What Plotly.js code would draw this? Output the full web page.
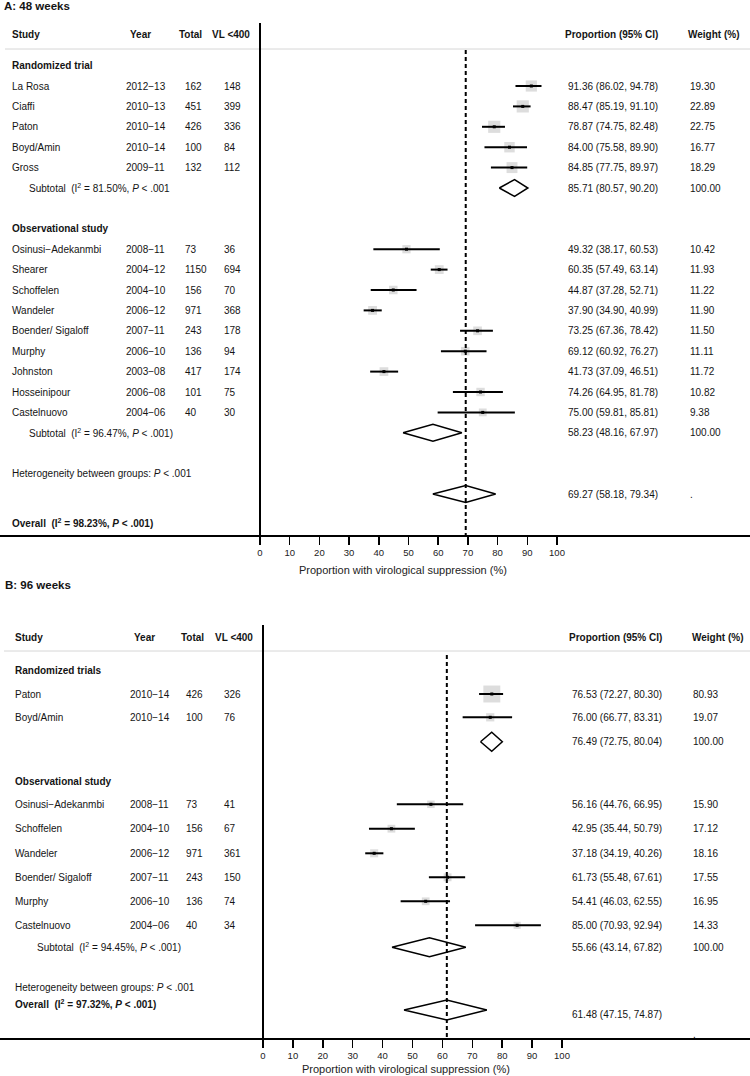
<!DOCTYPE html>
<html><head><meta charset="utf-8">
<script src="https://cdn.plot.ly/plotly-3.0.1.min.js"></script>
<style>html,body{margin:0;padding:0;background:#fff}#chart{width:750px;height:1076px}</style>
</head><body><div id="chart"></div>
<script>
// ================= DATA =================
// ---- Panel A: 48 weeks ----
const titleA = 'A: 48 weeks';
const rctLabelA = 'Randomized trial';
const rctNamesA = ['La Rosa', 'Ciaffi', 'Paton', 'Boyd/Amin', 'Gross'];
const rctYearsA = ['2012\u221213', '2010\u221213', '2010\u221214', '2010\u221214', '2009\u221211'];
const rctTotalA = [162, 451, 426, 100, 132];
const rctVlA    = [148, 399, 336, 84, 112];
const rctEstA   = [91.36, 88.47, 78.87, 84.00, 84.85];
const rctLoA    = [86.02, 85.19, 74.75, 75.58, 77.75];
const rctHiA    = [94.78, 91.10, 82.48, 89.90, 89.97];
const rctWA     = [19.30, 22.89, 22.75, 16.77, 18.29];
const rctPoolA  = [85.71, 80.57, 90.20];
const rctPoolWA = '100.00';
const rctPoolLabelA = 'Subtotal&nbsp; (I<sup>2</sup> = 81.50%, <i>P</i> &lt; .001';

const obsLabelA = 'Observational study';
const obsNamesA = ['Osinusi\u2212Adekanmbi', 'Shearer', 'Schoffelen', 'Wandeler', 'Boender/ Sigaloff', 'Murphy', 'Johnston', 'Hosseinipour', 'Castelnuovo'];
const obsYearsA = ['2008\u221211', '2004\u221212', '2004\u221210', '2006\u221212', '2007\u221211', '2006\u221210', '2003\u221208', '2006\u221208', '2004\u221206'];
const obsTotalA = [73, 1150, 156, 971, 243, 136, 417, 101, 40];
const obsVlA    = [36, 694, 70, 368, 178, 94, 174, 75, 30];
const obsEstA   = [49.32, 60.35, 44.87, 37.90, 73.25, 69.12, 41.73, 74.26, 75.00];
const obsLoA    = [38.17, 57.49, 37.28, 34.90, 67.36, 60.92, 37.09, 64.95, 59.81];
const obsHiA    = [60.53, 63.14, 52.71, 40.99, 78.42, 76.27, 46.51, 81.78, 85.81];
const obsWA     = [10.42, 11.93, 11.22, 11.90, 11.50, 11.11, 11.72, 10.82, 9.38];
const obsPoolA  = [58.23, 48.16, 67.97];
const obsPoolWA = '100.00';
const obsPoolLabelA = 'Subtotal&nbsp; (I<sup>2</sup> = 96.47%, <i>P</i> &lt; .001)';

const hetLabelA = 'Heterogeneity between groups: <i>P</i> &lt; .001';
const overallA  = [69.27, 58.18, 79.34];
const overallWA = '.';
const overallLabelA = '<b>Overall&nbsp; (I<sup>2</sup> = 98.23%, <i>P</i> &lt; .001)</b>';

// ---- Panel B: 96 weeks ----
const titleB = 'B: 96 weeks';
const rctLabelB = 'Randomized trials';
const rctNamesB = ['Paton', 'Boyd/Amin'];
const rctYearsB = ['2010\u221214', '2010\u221214'];
const rctTotalB = [426, 100];
const rctVlB    = [326, 76];
const rctEstB   = [76.53, 76.00];
const rctLoB    = [72.27, 66.77];
const rctHiB    = [80.30, 83.31];
const rctWB     = [80.93, 19.07];
const rctPoolB  = [76.49, 72.75, 80.04];
const rctPoolWB = '100.00';
const rctPoolLabelB = '';

const obsLabelB = 'Observational study';
const obsNamesB = ['Osinusi\u2212Adekanmbi', 'Schoffelen', 'Wandeler', 'Boender/ Sigaloff', 'Murphy', 'Castelnuovo'];
const obsYearsB = ['2008\u221211', '2004\u221210', '2006\u221212', '2007\u221211', '2006\u221210', '2004\u221206'];
const obsTotalB = [73, 156, 971, 243, 136, 40];
const obsVlB    = [41, 67, 361, 150, 74, 34];
const obsEstB   = [56.16, 42.95, 37.18, 61.73, 54.41, 85.00];
const obsLoB    = [44.76, 35.44, 34.19, 55.48, 46.03, 70.93];
const obsHiB    = [66.95, 50.79, 40.26, 67.61, 62.55, 92.94];
const obsWB     = [15.90, 17.12, 18.16, 17.55, 16.95, 14.33];
const obsPoolB  = [55.66, 43.14, 67.82];
const obsPoolWB = '100.00';
const obsPoolLabelB = 'Subtotal&nbsp; (I<sup>2</sup> = 94.45%, <i>P</i> &lt; .001)';

const hetLabelB = 'Heterogeneity between groups: <i>P</i> &lt; .001';
const overallB  = [61.48, 47.15, 74.87];
const overallWB = '.';
const overallLabelB = '<b>Overall&nbsp; (I<sup>2</sup> = 97.32%, <i>P</i> &lt; .001)</b>';

// ---- Shared labels ----
const headerLabels = ['Study', 'Year', 'Total', 'VL &lt;400', 'Proportion (95% CI)', 'Weight (%)'];
const axisTicks = [0, 10, 20, 30, 40, 50, 60, 70, 80, 90, 100];
const axisTitle = 'Proportion with virological suppression (%)';

// ================= LAYOUT / STYLE =================
const W = 750, H = 1076;
const FONT = 'Liberation Sans, Arial, Helvetica, sans-serif';
const TXT = '#141414';

const rowA = i => 86 + 20.4 * i;
const LA = {
  xr: 'x', yr: 'y', scale: 2.97, zeroPx: 260, axisY: 535,
  titleY: 6, titleX: 2,
  col: {study: 10, yearH: 128, totalH: 177, vlH: 210, year: 124, total: 183, vl: 222, sub: 27, propH: 563, prop: 566, wH: 686, w: 688},
  yHeader: 34, ySep: 49, sepX0: 5, yVTop: 23, yDashTop: 50,
  rctHeader: rowA(-1), rctRows: [0, 1, 2, 3, 4].map(rowA), rctPool: rowA(5), rctPoolText: rowA(5),
  obsHeader: rowA(7), obsRows: [8, 9, 10, 11, 12, 13, 14, 15, 16].map(rowA), obsPool: rowA(17),
  het: rowA(19), overall: rowA(20), overallText: rowA(20), overallW: rowA(20), overallLabel: 522.6,
  boxK: 2.55, dh: 8.5, dhOverall: 8.5,
  axisTitleY: 570, axisTitleX: 403
};
const LB = {
  xr: 'x2', yr: 'y2', scale: 2.99, zeroPx: 263, axisY: 1038,
  titleY: 585, titleX: 3,
  col: {study: 13, yearH: 132, totalH: 179, vlH: 213, year: 128, total: 184, vl: 222, sub: 35, propH: 567, prop: 570, wH: 690, w: 691},
  yHeader: 637, ySep: 651, sepX0: 4, yVTop: 625, yDashTop: 655,
  rctHeader: 670, rctRows: [694, 717.3], rctPool: 741.7, rctPoolText: 741.7,
  obsHeader: 781, obsRows: [804.3, 828.7, 853.3, 877.3, 901.3, 925.3], obsPool: 947.3,
  het: 987.7, overall: 1010, overallText: 1014, overallW: 1034, overallLabel: 1004.3,
  boxK: 1.88, dh: 9.5, dhOverall: 10,
  axisTitleY: 1069, axisTitleX: 406
};

const traces = [], shapes = [], annotations = [];

function text(L, t, xpx, y, o) {
  o = o || {};
  annotations.push({
    text: t, xref: 'paper', x: xpx / W, yref: o.paper ? 'paper' : L.yr, y: o.paper ? 1 - y / H : y,
    xanchor: o.anchor || 'left', yanchor: 'middle', showarrow: false,
    font: {family: FONT, size: o.size || 10, color: o.color || TXT}
  });
}

function addGroup(L, g, rows) {
  const c = L.col;
  g.names.forEach((n, i) => {
    const y = rows[i];
    text(L, n, c.study, y);
    text(L, g.years[i], c.year, y);
    text(L, String(g.total[i]), c.total, y);
    text(L, String(g.vl[i]), c.vl, y);
    text(L, g.est[i].toFixed(2) + ' (' + g.lo[i].toFixed(2) + ', ' + g.hi[i].toFixed(2) + ')', c.prop, y);
    text(L, g.w[i].toFixed(2), c.w, y);
  });
  // weight boxes
  traces.push({type: 'scatter', mode: 'markers', xaxis: L.xr, yaxis: L.yr, x: g.est, y: rows,
    marker: {symbol: 'square', size: g.w.map(w => L.boxK * Math.sqrt(w)), color: '#cfcfcf', line: {width: 0}},
    hoverinfo: 'skip', showlegend: false});
  // CI lines
  const xs = [], ys = [];
  g.est.forEach((e, i) => { xs.push(g.lo[i], g.hi[i], null); ys.push(rows[i], rows[i], null); });
  traces.push({type: 'scatter', mode: 'lines', xaxis: L.xr, yaxis: L.yr, x: xs, y: ys,
    line: {color: '#000', width: 2}, hoverinfo: 'skip', showlegend: false});
  // centre points
  traces.push({type: 'scatter', mode: 'markers', xaxis: L.xr, yaxis: L.yr, x: g.est, y: rows,
    marker: {symbol: 'square', size: 3, color: '#000'}, hoverinfo: 'skip', showlegend: false});
}

function addDiamond(L, p, y, dh) {
  traces.push({type: 'scatter', mode: 'lines', xaxis: L.xr, yaxis: L.yr,
    x: [p[1], p[0], p[2], p[0], p[1]], y: [y, y - dh, y, y + dh, y],
    fill: 'toself', fillcolor: '#fff', line: {color: '#000', width: 1.5},
    hoverinfo: 'skip', showlegend: false});
}

function buildPanel(L, D) {
  const c = L.col;
  text(L, '<b>' + D.title + '</b>', L.titleX, L.titleY, {paper: true, size: 11.5});
  text(L, '<b>' + headerLabels[0] + '</b>', c.study, L.yHeader);
  text(L, '<b>' + headerLabels[1] + '</b>', c.yearH, L.yHeader);
  text(L, '<b>' + headerLabels[2] + '</b>', c.totalH, L.yHeader);
  text(L, '<b>' + headerLabels[3] + '</b>', c.vlH, L.yHeader);
  text(L, '<b>' + headerLabels[4] + '</b>', c.propH, L.yHeader);
  text(L, '<b>' + headerLabels[5] + '</b>', c.wH, L.yHeader);

  text(L, '<b>' + D.rct.label + '</b>', c.study, L.rctHeader);
  addGroup(L, D.rct, L.rctRows);
  addDiamond(L, D.rct.pool, L.rctPool, L.dh);
  if (D.rct.poolLabel) text(L, D.rct.poolLabel, c.sub, L.rctPool);
  text(L, D.rct.pool[0].toFixed(2) + ' (' + D.rct.pool[1].toFixed(2) + ', ' + D.rct.pool[2].toFixed(2) + ')', c.prop, L.rctPoolText);
  text(L, D.rct.poolW, c.w, L.rctPoolText);

  text(L, '<b>' + D.obs.label + '</b>', c.study, L.obsHeader);
  addGroup(L, D.obs, L.obsRows);
  addDiamond(L, D.obs.pool, L.obsPool, L.dh);
  text(L, D.obs.poolLabel, c.sub, L.obsPool);
  text(L, D.obs.pool[0].toFixed(2) + ' (' + D.obs.pool[1].toFixed(2) + ', ' + D.obs.pool[2].toFixed(2) + ')', c.prop, L.obsPool);
  text(L, D.obs.poolW, c.w, L.obsPool);

  text(L, D.het, c.study, L.het);
  addDiamond(L, D.overall, L.overall, L.dhOverall);
  text(L, D.overallLabel, c.study, L.overallLabel);
  text(L, D.overall[0].toFixed(2) + ' (' + D.overall[1].toFixed(2) + ', ' + D.overall[2].toFixed(2) + ')', c.prop, L.overallText);
  text(L, D.overallW, c.w, L.overallW);

  text(L, axisTitle, L.axisTitleX, L.axisTitleY, {paper: true, size: 11, anchor: 'center', color: '#222'});

  shapes.push({type: 'line', xref: 'paper', x0: L.sepX0 / W, x1: 1, yref: L.yr, y0: L.ySep, y1: L.ySep,
    line: {color: '#d6d6d6', width: 1}});
  shapes.push({type: 'line', xref: L.xr, x0: 0, x1: 0, yref: L.yr, y0: L.yVTop, y1: L.axisY,
    line: {color: '#000', width: 2}});
  shapes.push({type: 'line', xref: L.xr, x0: D.overall[0], x1: D.overall[0], yref: L.yr, y0: L.yDashTop, y1: L.axisY,
    line: {color: '#000', width: 2, dash: '4px,3px'}});
}

buildPanel(LA, {
  title: titleA,
  rct: {label: rctLabelA, names: rctNamesA, years: rctYearsA, total: rctTotalA, vl: rctVlA, est: rctEstA, lo: rctLoA, hi: rctHiA, w: rctWA, pool: rctPoolA, poolW: rctPoolWA, poolLabel: rctPoolLabelA},
  obs: {label: obsLabelA, names: obsNamesA, years: obsYearsA, total: obsTotalA, vl: obsVlA, est: obsEstA, lo: obsLoA, hi: obsHiA, w: obsWA, pool: obsPoolA, poolW: obsPoolWA, poolLabel: obsPoolLabelA},
  het: hetLabelA, overall: overallA, overallW: overallWA, overallLabel: overallLabelA
});
buildPanel(LB, {
  title: titleB,
  rct: {label: rctLabelB, names: rctNamesB, years: rctYearsB, total: rctTotalB, vl: rctVlB, est: rctEstB, lo: rctLoB, hi: rctHiB, w: rctWB, pool: rctPoolB, poolW: rctPoolWB, poolLabel: rctPoolLabelB},
  obs: {label: obsLabelB, names: obsNamesB, years: obsYearsB, total: obsTotalB, vl: obsVlB, est: obsEstB, lo: obsLoB, hi: obsHiB, w: obsWB, pool: obsPoolB, poolW: obsPoolWB, poolLabel: obsPoolLabelB},
  het: hetLabelB, overall: overallB, overallW: overallWB, overallLabel: overallLabelB
});

function xAxis(L, anchor) {
  return {
    domain: [0, 1], anchor: anchor,
    range: [-L.zeroPx / L.scale, (W - L.zeroPx) / L.scale],
    showline: true, linecolor: '#000', linewidth: 1.5,
    ticks: 'outside', ticklen: 8, tickwidth: 1.5, tickcolor: '#000',
    tickvals: axisTicks, ticktext: axisTicks.map(String),
    tickfont: {family: FONT, size: 9.5, color: '#222'},
    showgrid: false, zeroline: false, fixedrange: true
  };
}
function yAxis(top, bottom) {
  return {domain: [1 - bottom / H, 1 - top / H], range: [bottom, top],
    showticklabels: false, showgrid: false, zeroline: false, ticks: '', showline: false, fixedrange: true};
}

const layout = {
  width: W, height: H, margin: {l: 0, r: 0, t: 0, b: 0, pad: 0},
  paper_bgcolor: '#fff', plot_bgcolor: '#fff', showlegend: false,
  font: {family: FONT, size: 10, color: TXT},
  xaxis: xAxis(LA, 'y'), yaxis: yAxis(0, LA.axisY),
  xaxis2: xAxis(LB, 'y2'), yaxis2: yAxis(540, LB.axisY),
  shapes: shapes, annotations: annotations
};

Plotly.newPlot('chart', traces, layout, {displayModeBar: false, staticPlot: true});
</script>
</body></html>
